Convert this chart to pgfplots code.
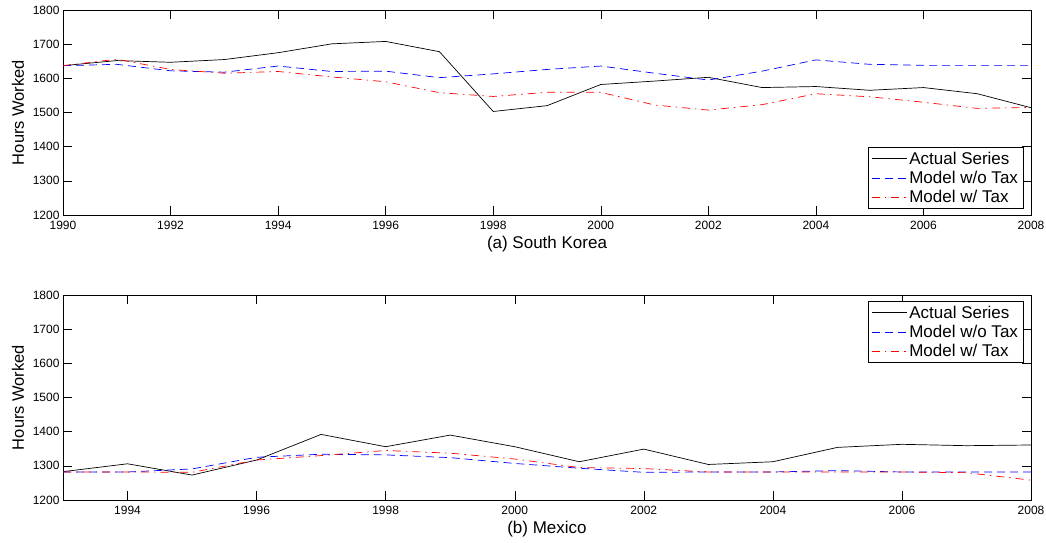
\documentclass[border=0pt]{standalone}
\usepackage{fontspec}
\setmainfont{Liberation Sans}
\usepackage{pgfplots}
\usepackage{pgfplotstable}
\pgfplotsset{compat=1.18}

% Hours worked per year: actual series and the two model paths
\pgfplotstableread{
year actual notax tax
1990 1637 1637 1637
1991 1652 1641 1656
1992 1647 1622 1626
1993 1655 1618 1615
1994 1675 1636 1620
1995 1701 1620 1604
1996 1708 1621 1590
1997 1678 1602 1558
1998 1503 1613 1547
1999 1520 1626 1559
2000 1582 1636 1559
2001 1592 1615 1522
2002 1603 1595 1507
2003 1573 1621 1523
2004 1576 1654 1555
2005 1565 1641 1546
2006 1573 1638 1530
2007 1555 1638 1512
2008 1514 1638 1515
}\korea

\pgfplotstableread{
year actual notax tax
1993 1283 1282 1282
1994 1306 1282 1282
1995 1273 1291 1281
1996 1317 1325 1317
1997 1392 1334 1330
1998 1356 1332 1345
1999 1390 1324 1337
2000 1356 1307 1320
2001 1312 1293 1295
2002 1349 1281 1292
2003 1304 1282 1282
2004 1312 1282 1282
2005 1354 1286 1282
2006 1363 1282 1282
2007 1359 1282 1280
2008 1361 1282 1258
}\mexico

\pgfplotsset{
  hours/.style={
    scale only axis, width=968pt, height=205pt,
    ymin=1200, ymax=1800, ytick={1200,1300,...,1800},
    tick align=inside, major tick length=9pt,
    tick style={black, line width=0.5pt},
    axis line style={black, line width=0.9pt},
    ticklabel style={font=\fontsize{12}{13}\selectfont},
    xticklabel style={yshift=-5pt, inner ysep=1pt},
    /pgf/number format/assume math mode=true,
    /pgf/number format/1000 sep={},
    ylabel={Hours Worked},
    ylabel style={font=\fontsize{16.5}{18}\selectfont, at={(axis description cs:-0.0465,0.5)}, anchor=center},
    xlabel style={font=\fontsize{17}{19}\selectfont, at={(axis description cs:0.5,0)}, anchor=center, yshift=-29pt, inner ysep=0pt},
    legend cell align=left,
    legend style={font=\fontsize{17}{19}\selectfont, draw=black, line width=0.6pt,
      inner xsep=3pt, inner ysep=2.5pt, row sep=1.5pt},
    legend image code/.code={\draw[#1] (0pt,0pt) -- (35pt,0pt);},
  },
  actual/.style={black, draw=black, line width=0.7pt},
  notax/.style={blue, draw=blue, line width=0.7pt, dash pattern=on 8pt off 5pt},
  withtax/.style={red, draw=red, line width=0.7pt, dash pattern=on 8pt off 5pt on 1.5pt off 5pt},
}

\begin{document}
\begin{tikzpicture}
\useasboundingbox (0,0) rectangle (1046pt,542pt);

\begin{axis}[hours, at={(63pt,327pt)}, anchor=south west,
  xmin=1990, xmax=2008, xtick={1990,1992,...,2008},
  xlabel={(a) South Korea},
  legend style={at={(axis description cs:0.992,0.029)}, anchor=south east}]
  \addplot[actual] table[x=year, y=actual] {\korea};
  \addplot[notax] table[x=year, y=notax] {\korea};
  \addplot[withtax] table[x=year, y=tax] {\korea};
  \legend{Actual Series, Model w/o Tax, Model w/ Tax}
\end{axis}

\begin{axis}[hours, at={(63pt,42pt)}, anchor=south west,
  xmin=1993, xmax=2008, xtick={1994,1996,...,2008},
  xlabel={(b) Mexico},
  legend style={at={(axis description cs:0.992,0.971)}, anchor=north east}]
  \addplot[actual] table[x=year, y=actual] {\mexico};
  \addplot[notax] table[x=year, y=notax] {\mexico};
  \addplot[withtax] table[x=year, y=tax] {\mexico};
  \legend{Actual Series, Model w/o Tax, Model w/ Tax}
\end{axis}
\end{tikzpicture}
\end{document}
